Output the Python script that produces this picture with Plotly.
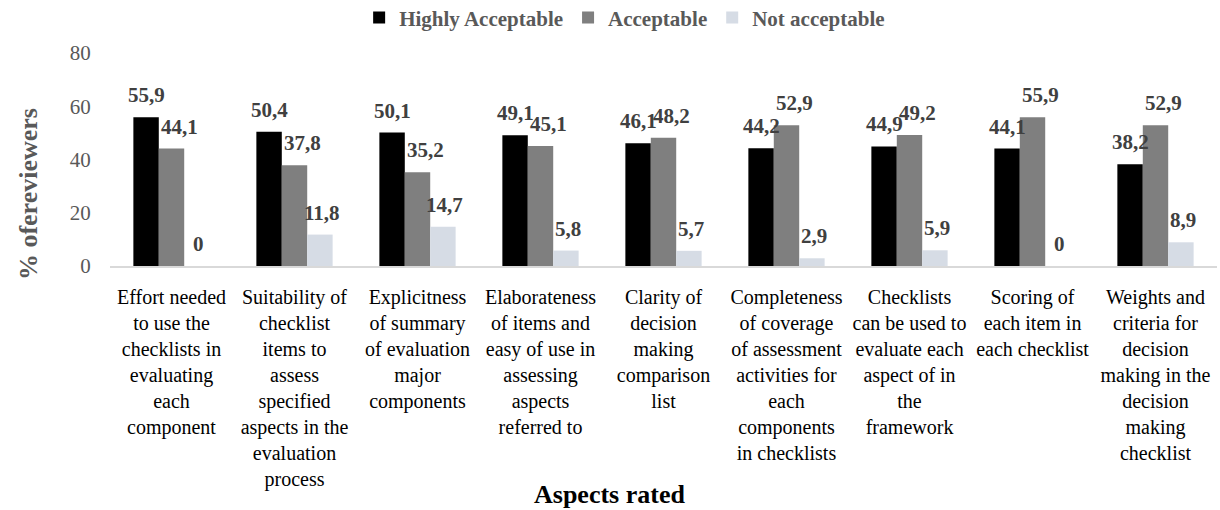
import plotly.graph_objects as go

categories = [
    "Effort needed<br>to use the<br>checklists in<br>evaluating<br>each<br>component",
    "Suitability of<br>checklist<br>items to<br>assess<br>specified<br>aspects in the<br>evaluation<br>process",
    "Explicitness<br>of summary<br>of evaluation<br>major<br>components",
    "Elaborateness<br>of items and<br>easy of use in<br>assessing<br>aspects<br>referred to",
    "Clarity of<br>decision<br>making<br>comparison<br>list",
    "Completeness<br>of coverage<br>of assessment<br>activities for<br>each<br>components<br>in checklists",
    "Checklists<br>can be used to<br>evaluate each<br>aspect of in<br>the<br>framework",
    "Scoring of<br>each item in<br>each checklist",
    "Weights and<br>criteria for<br>decision<br>making in the<br>decision<br>making<br>checklist",
]

highly_acceptable = [55.9, 50.4, 50.1, 49.1, 46.1, 44.2, 44.9, 44.1, 38.2]
acceptable = [44.1, 37.8, 35.2, 45.1, 48.2, 52.9, 49.2, 55.9, 52.9]
not_acceptable = [0, 11.8, 14.7, 5.8, 5.7, 2.9, 5.9, 0, 8.9]

series_names = ["Highly Acceptable", "Acceptable", "Not acceptable"]
series_values = [highly_acceptable, acceptable, not_acceptable]
colors = ["#000000", "#7f7f7f", "#d6dce5"]

FONT = "Liberation Serif"

fig = go.Figure()
for name, vals, col in zip(series_names, series_values, colors):
    fig.add_trace(go.Bar(
        x=categories, y=vals, name="<b>" + name + "</b>",
        marker=dict(color=col, line=dict(width=0)),
    ))

def fmt(v):
    return "0" if v == 0 else f"{v:.1f}".replace(".", ",")

bar_px = 25.3
series_shift = [-bar_px, 8, bar_px + 2]
annotations = []
for si, vals in enumerate(series_values):
    for k, v in zip(categories, vals):
        annotations.append(dict(
            x=k, y=v, xref="x", yref="y", text="<b>" + fmt(v) + "</b>", showarrow=False,
            xanchor="center", yanchor="bottom", xshift=series_shift[si], yshift=8,
            font=dict(family=FONT, size=21, color="#404040"),
        ))

annotations.append(dict(
    text="<b>Aspects rated</b>", xref="paper", yref="paper", x=0.451, y=-1.075,
    showarrow=False, xanchor="center", yanchor="middle",
    font=dict(family=FONT, size=26, color="#000000"),
))
annotations.append(dict(
    text="<b>% ofereviewers</b>", xref="paper", yref="paper", x=-0.074, y=0.338,
    showarrow=False, xanchor="center", yanchor="middle", textangle=-90,
    font=dict(family=FONT, size=26, color="#595959"),
))

fig.update_layout(
    width=1220, height=510,
    margin=dict(l=110, r=3, t=53, b=244),
    paper_bgcolor="white", plot_bgcolor="white",
    barmode="group", bargap=0.38, bargroupgap=0,
    font=dict(family=FONT),
    showlegend=True,
    legend=dict(
        orientation="h", xref="container", yref="container",
        x=0.512, y=0.965, xanchor="center", yanchor="middle",
        font=dict(family=FONT, size=21, color="#595959"),
        itemwidth=30, traceorder="normal",
    ),
    annotations=annotations,
)
fig.update_xaxes(
    type="category",
    tickfont=dict(family=FONT, size=20, color="#000000"),
    showline=True, linecolor="#d9d9d9", linewidth=1.5,
    showgrid=False, ticks="outside", ticklen=12, tickcolor="rgba(0,0,0,0)",
    zeroline=False, tickangle=0,
)
fig.update_yaxes(
    range=[0, 80], tickvals=[0, 20, 40, 60, 80],
    tickfont=dict(family=FONT, size=21, color="#595959"),
    showgrid=False, showline=False, zeroline=False,
    ticks="outside", ticklen=14, tickcolor="rgba(0,0,0,0)",
)

fig.write_html("out.html")
